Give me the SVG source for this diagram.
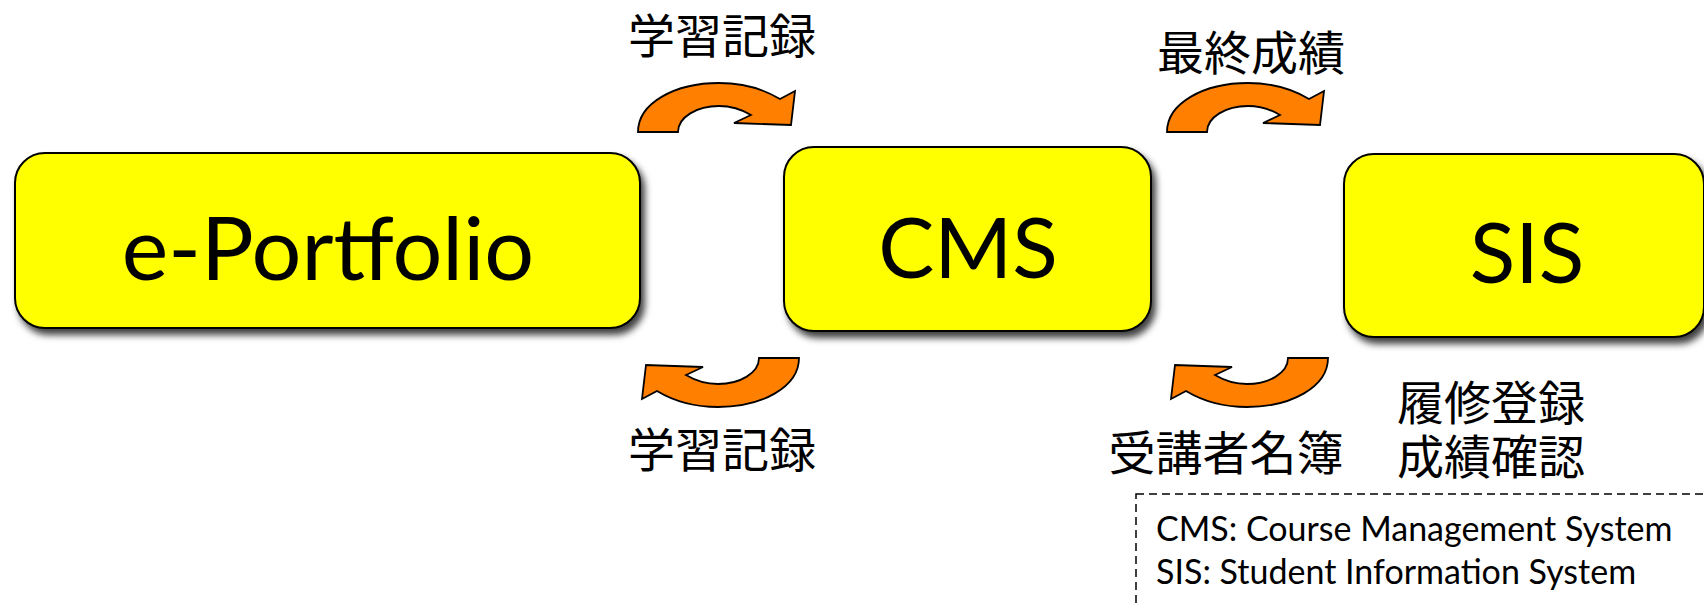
<svg xmlns="http://www.w3.org/2000/svg" xmlns:xlink="http://www.w3.org/1999/xlink" width="1704" height="603" viewBox="0 0 1704 603">
<style>
.box{fill:#FFFF00;stroke:#000;stroke-width:2;}
.big{font-family:Lato,"Open Sans","Liberation Sans",sans-serif;font-size:84px;fill:#000;text-anchor:middle;}
.jp{font-family:"Noto Sans CJK JP","Noto Sans CJK SC",sans-serif;font-size:47px;fill:#000;text-anchor:middle;}
.legend{font-family:Lato,"Open Sans","Liberation Sans",sans-serif;font-size:34px;fill:#000;}
.arrow{fill:#FF7F00;stroke:#000;stroke-width:1.8;stroke-linejoin:miter;}
</style>
<defs>
<filter id="shadow" x="-10%" y="-10%" width="130%" height="140%">
<feDropShadow dx="4" dy="6" stdDeviation="3.5" flood-color="#000" flood-opacity="0.75"/>
</filter>
<path id="curved" class="arrow" d="M638,132 C638,103 675,83 719,83 C745,83 765,90 780,99 L795,91 L791,125 L734,123 L751,115 C741,109 731,106 719,106 C697,106 678,117 678,132 Z"/>
</defs>
<rect width="1704" height="603" fill="#fff"/>
<g id="node-eportfolio">
<rect class="box" x="15" y="153" width="625" height="175" rx="30" filter="url(#shadow)"/>
<text class="big" x="328" y="280" style="font-size:88px">e-Portfolio</text>
</g>
<g id="node-cms">
<rect class="box" x="784" y="147" width="367" height="184" rx="30" filter="url(#shadow)"/>
<text class="big" x="968" y="278">CMS</text>
</g>
<g id="node-sis">
<rect class="box" x="1344" y="154" width="360" height="183" rx="30" filter="url(#shadow)"/>
<text class="big" x="1527" y="283">SIS</text>
</g>
<g id="connectors">
<use xlink:href="#curved"/>
<use xlink:href="#curved" transform="translate(529,0)"/>
<use xlink:href="#curved" transform="rotate(180 718.5 245)"/>
<use xlink:href="#curved" transform="translate(529,0) rotate(180 718.5 245)"/>
</g>
<g id="labels">
<text class="jp" x="722" y="53">学習記録</text>
<text class="jp" x="1251" y="70">最終成績</text>
<text class="jp" x="722" y="467">学習記録</text>
<text class="jp" x="1226" y="470">受講者名簿</text>
<text class="jp" x="1491" y="420">履修登録</text>
<text class="jp" x="1491" y="474">成績確認</text>
</g>
<g id="legend">
<rect x="1136" y="494" width="600" height="150" fill="none" stroke="#000" stroke-width="1.5" stroke-dasharray="8,5"/>
<text class="legend" x="1156" y="541">CMS: Course Management System</text>
<text class="legend" x="1156" y="584">SIS: Student Information System</text>
</g>
</svg>
